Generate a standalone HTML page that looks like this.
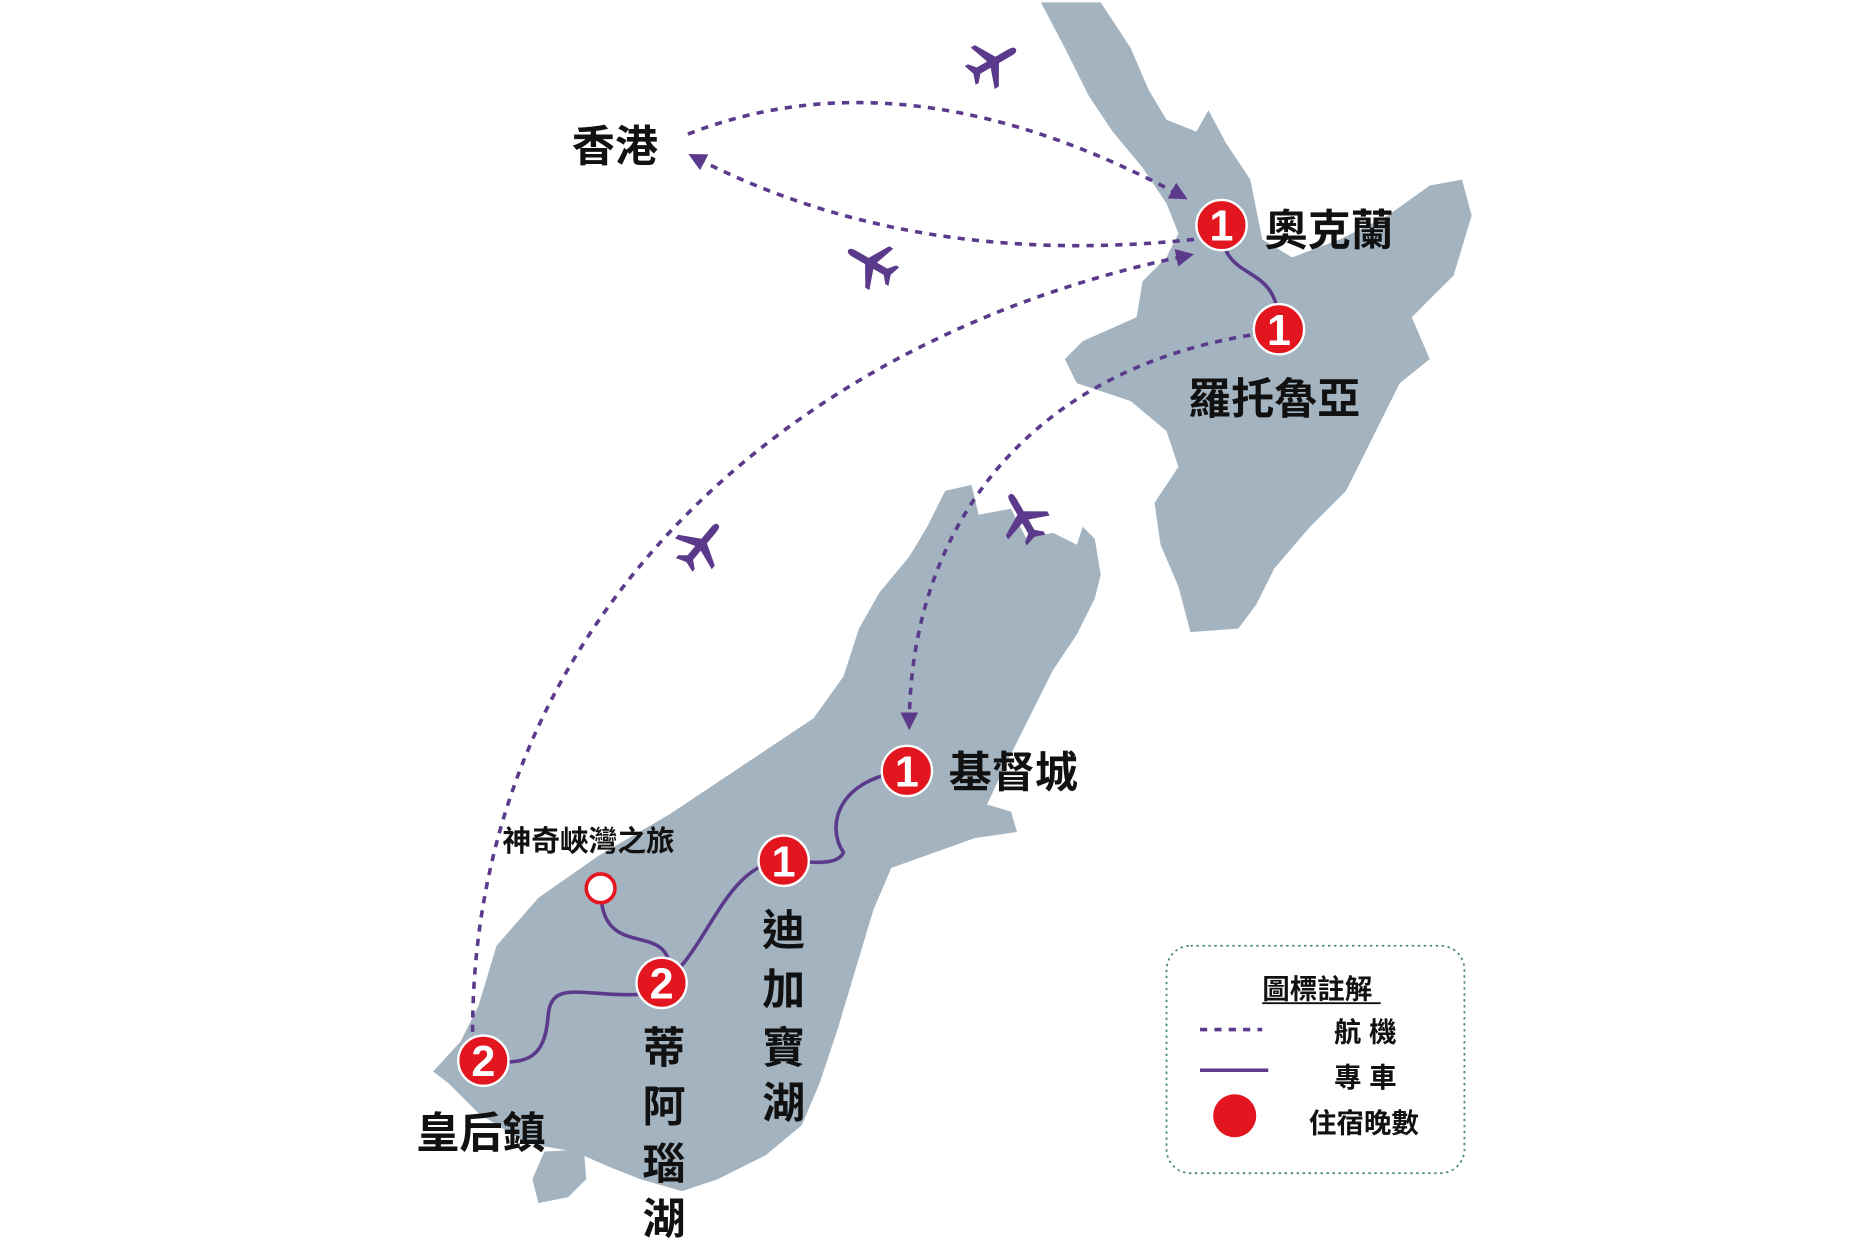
<!DOCTYPE html>
<html><head><meta charset="utf-8"><style>
html,body{margin:0;padding:0;background:#fff;}
svg{display:block}
text{font-family:"Liberation Sans","Noto Sans CJK TC",sans-serif;font-weight:bold;fill:#111}
</style></head><body>
<svg width="1876" height="1257" viewBox="0 0 1568 1050" preserveAspectRatio="none" xmlns="http://www.w3.org/2000/svg">
<defs>
<marker id="ar" viewBox="0 0 10 10" refX="8" refY="5" markerWidth="5" markerHeight="5" orient="auto"><path d="M0,0 L10,5 L0,10 z" fill="#5b3a8c"/></marker>
<g id="pl"><path d="M0,-22 C3,-22 3,-18 3,-14 L3,-4 L20,6 L20,10 L3,4 L3,14 L9,19 L9,22 L0,19 L-9,22 L-9,19 L-3,14 L-3,4 L-20,10 L-20,6 L-3,-4 L-3,-14 C-3,-18 -3,-22 0,-22z" fill="#5b3a8c"/></g>
</defs>
<path fill="#a3b3bf" d="M870,2 L920,2 L945,40 L960,75 L975,100 L1000,110 L1010,92 L1025,120 L1045,150 L1055,200 L1080,215 L1120,200 L1160,180 L1195,155 L1222,150 L1230,180 L1215,230 L1195,250 L1180,265 L1195,300 L1170,320 L1145,370 L1125,410 L1095,440 L1065,475 L1050,505 L1035,525 L995,528 L985,490 L970,455 L965,420 L985,390 L975,360 L945,335 L900,320 L890,300 L905,285 L950,265 L955,235 L975,215 L985,195 L975,170 L955,140 L930,110 L910,80 L890,40 Z"/>
<path fill="#a3b3bf" d="M790,410 L812,405 L818,430 L845,425 L858,450 L880,445 L900,455 L905,440 L915,450 L920,480 L915,500 L900,530 L880,560 L860,600 L840,640 L825,672 L845,678 L850,695 L815,700 L745,725 L730,760 L715,810 L700,860 L685,905 L670,940 L640,965 L600,985 L570,995 L535,985 L510,975 L480,962 L440,955 L400,930 L375,905 L362,895 L385,870 L400,840 L415,790 L450,750 L500,715 L560,680 L620,640 L680,600 L705,565 L718,525 L735,495 L760,465 L775,440 Z"/>
<path fill="#a3b3bf" d="M455,962 L488,960 L490,985 L475,1000 L450,1005 L445,985 Z"/>
<circle cx="512" cy="965" r="5" fill="#a3b3bf"/>
<g fill="none" stroke="#5b3a8c" stroke-width="3">
<path d="M1021,188 C1020,240 1070,215 1069,275"/>
<path d="M758,644 C700,650 690,690 705,712 C700,725 670,719 655,719"/>
<path d="M655,719 C605,720 590,800 553,821"/>
<path d="M560,812 C560,770 510,800 503,755"/>
<path d="M545,830 C490,835 460,815 458,850 C455,885 440,890 404,886"/>
</g>
<g fill="none" stroke="#5b3a8c" stroke-width="3" stroke-dasharray="6,6" marker-end="url(#ar)">
<path d="M575,112 Q760,40 990,165"/>
<path d="M998,200 Q760,225 578,130"/>
<path d="M395,862 C395,520 660,280 995,213"/>
<path d="M1045,280 C860,310 760,440 760,607"/>
</g>
<use href="#pl" transform="translate(830,52) rotate(60)"/>
<use href="#pl" transform="translate(728,220) rotate(-60)"/>
<use href="#pl" transform="translate(586,455) rotate(40)"/>
<use href="#pl" transform="translate(855,432) rotate(-30)"/>
<g fill="#e3161f" stroke="#fff" stroke-width="2">
<circle cx="1021" cy="188" r="21"/><circle cx="1069" cy="275" r="21"/>
<circle cx="758" cy="644" r="21"/><circle cx="655" cy="719" r="21"/>
<circle cx="553" cy="821" r="21"/><circle cx="404" cy="886" r="21"/>
</g>
<circle cx="502" cy="742" r="12" fill="#fff" stroke="#e3161f" stroke-width="3"/>
<g style="font-size:36px;font-weight:normal" text-anchor="middle">
<text x="1021" y="201" style="fill:#fff">1</text><text x="1069" y="288" style="fill:#fff">1</text>
<text x="758" y="657" style="fill:#fff">1</text><text x="655" y="732" style="fill:#fff">1</text>
<text x="553" y="834" style="fill:#fff">2</text><text x="404" y="899" style="fill:#fff">2</text>
</g>
<g font-size="36">
<text x="478" y="135">香港</text>
<text x="1057" y="205">奧克蘭</text>
<text x="993" y="346">羅托魯亞</text>
<text x="793" y="658">基督城</text>
<text x="348" y="959">皇后鎮</text>
</g>
<text x="420" y="711" font-size="24">神奇峽灣之旅</text>
<g font-size="36" text-anchor="middle">
<text x="655" y="790">迪</text><text x="655" y="839">加</text><text x="655" y="888">寶</text><text x="655" y="934">湖</text>
<text x="555" y="888">蒂</text><text x="555" y="937">阿</text><text x="555" y="985">瑙</text><text x="555" y="1031">湖</text>
</g>
<rect x="975" y="790" width="249" height="190" rx="20" fill="none" stroke="#4a8a7a" stroke-width="1.5" stroke-dasharray="2,3"/>
<text x="1055" y="834" font-size="23" font-weight="normal">圖標註解</text>
<line x1="1055" y1="838" x2="1154" y2="838" stroke="#111" stroke-width="1.5"/>
<line x1="1003" y1="860" x2="1055" y2="860" stroke="#5b3a8c" stroke-width="3" stroke-dasharray="6,6"/>
<text x="1115" y="870" font-size="23" font-weight="normal">航 機</text>
<line x1="1003" y1="894" x2="1060" y2="894" stroke="#5b3a8c" stroke-width="3"/>
<text x="1115" y="908" font-size="23" font-weight="normal">專 車</text>
<circle cx="1032" cy="932" r="18" fill="#e3161f"/>
<text x="1094" y="946" font-size="23" font-weight="normal">住宿晚數</text>
</svg>
</body></html>
